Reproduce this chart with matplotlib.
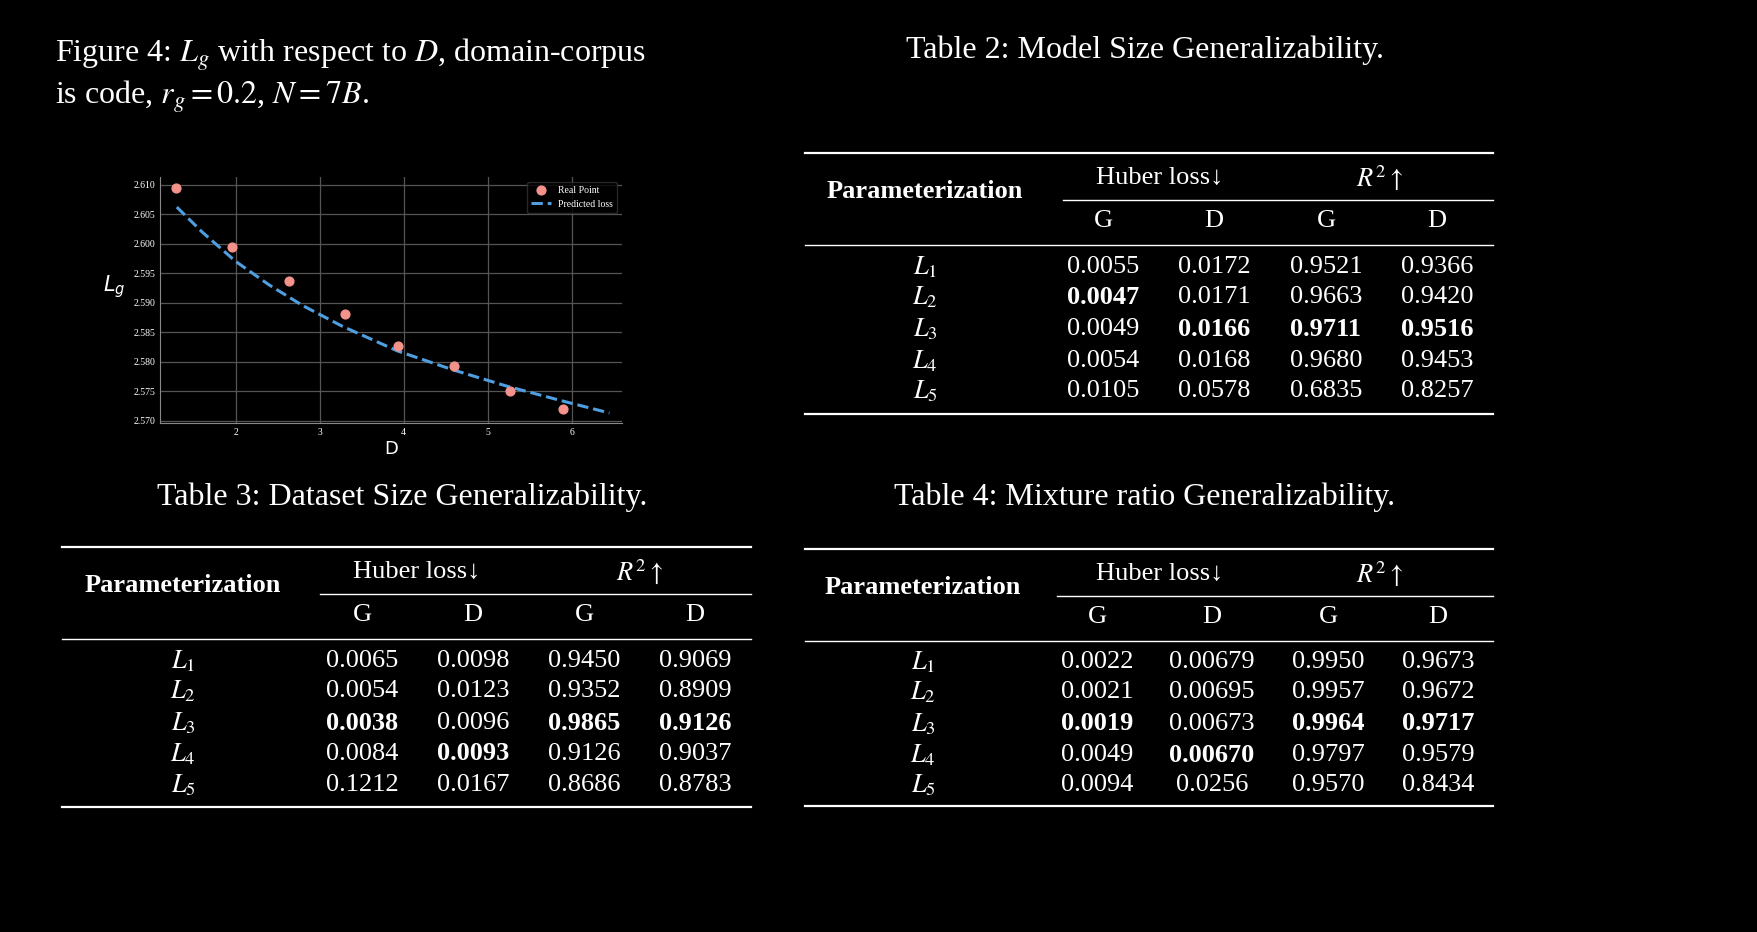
import numpy as np
import matplotlib.pyplot as plt

plt.rcParams["font.family"] = ["Liberation Serif", "DejaVu Serif"]
plt.rcParams["mathtext.fontset"] = "stix"

# chart data
d_real = [1.29, 1.96, 2.63, 3.30, 3.93, 4.60, 5.27, 5.90]
lg_real = [2.6094, 2.5994, 2.5936, 2.5880, 2.5826, 2.5793, 2.5750, 2.5720]
d_pred = [1.30, 1.60, 2.00, 2.40, 2.80, 3.27, 3.93, 4.59, 5.24, 5.90, 6.45]
lg_pred = [2.6062, 2.6020, 2.5970, 2.5930, 2.5895, 2.5860, 2.5818, 2.5786, 2.5758, 2.5733, 2.5713]

# tables
rows = ["$L_1$", "$L_2$", "$L_3$", "$L_4$", "$L_5$"]
t2 = [["0.0055", "0.0172", "0.9521", "0.9366"],
      ["0.0047", "0.0171", "0.9663", "0.9420"],
      ["0.0049", "0.0166", "0.9711", "0.9516"],
      ["0.0054", "0.0168", "0.9680", "0.9453"],
      ["0.0105", "0.0578", "0.6835", "0.8257"]]
t2_bold = [(1, 0), (2, 1), (2, 2), (2, 3)]
t3 = [["0.0065", "0.0098", "0.9450", "0.9069"],
      ["0.0054", "0.0123", "0.9352", "0.8909"],
      ["0.0038", "0.0096", "0.9865", "0.9126"],
      ["0.0084", "0.0093", "0.9126", "0.9037"],
      ["0.1212", "0.0167", "0.8686", "0.8783"]]
t3_bold = [(2, 0), (3, 1), (2, 2), (2, 3)]
t4 = [["0.0022", "0.00679", "0.9950", "0.9673"],
      ["0.0021", "0.00695", "0.9957", "0.9672"],
      ["0.0019", "0.00673", "0.9964", "0.9717"],
      ["0.0049", "0.00670", "0.9797", "0.9579"],
      ["0.0094", "0.0256", "0.9570", "0.8434"]]
t4_bold = [(2, 0), (3, 1), (2, 2), (2, 3)]

W, H = 1758, 932
fig = plt.figure(figsize=(W / 100, H / 100), dpi=100, facecolor="black")


def fx(x):
    return x / W


def fy(y):
    return 1 - y / H


def txt(x, y, s, size=19, ha="center", **kw):
    fig.text(fx(x), fy(y), s, color="white", fontsize=size, ha=ha, va="center", **kw)


def hline(x0, x1, y, lw=1.6):
    fig.add_artist(plt.Line2D([fx(x0), fx(x1)], [fy(y), fy(y)], color="white", lw=lw))


# caption
txt(55, 55, "Figure 4: $L_g$ with respect to $D$, domain-corpus", size=23, ha="left")
txt(55, 97, "is code, $r_g = 0.2$, $N = 7B$.", size=23, ha="left")


def table(title, tx, ty, x0, x1, top, param_x, hub_x, r2_x, sub_x0, cols, rowy, bottom, data, bold):
    txt(tx, ty, title, size=23)
    hline(x0, x1, top)
    txt(param_x, top + 39, "Parameterization", weight="bold")
    txt(hub_x, top + 25, "Huber loss↓", family=["Liberation Serif", "DejaVu Sans"])
    txt(r2_x, top + 25, "$R^2\\uparrow$")
    hline(sub_x0, x1, top + 47, lw=1.0)
    for c, lab in zip(cols, ["G", "D", "G", "D"]):
        txt(c, top + 68, lab)
    hline(x0, x1, top + 92, lw=1.0)
    for i, (r, y) in enumerate(zip(rows, rowy)):
        txt(param_x, y, r)
        for j, c in enumerate(cols):
            txt(c, y, data[i][j], weight="bold" if (i, j) in bold else "normal")
    hline(x0, x1, bottom)


table("Table 2: Model Size Generalizability.", 1145, 50, 805, 1493, 153, 925, 1160, 1380, 1063,
      [1103, 1214, 1326, 1437], [267, 297, 329, 361, 391], 414, t2, t2_bold)
table("Table 3: Dataset Size Generalizability.", 402, 497, 62, 751, 547, 183, 417, 640, 320,
      [362, 473, 584, 695], [661, 691, 723, 754, 785], 807, t3, t3_bold)
table("Table 4: Mixture ratio Generalizability.", 1145, 497, 805, 1493, 549, 923, 1160, 1380, 1057,
      [1097, 1212, 1328, 1438], [662, 692, 724, 755, 785], 806, t4, t4_bold)

# small chart
ax = fig.add_axes([fx(160), fy(423), fx(622 - 160), (423 - 177) / H], facecolor="black")
ax.plot(d_pred, lg_pred, ls="--", color="#4f9ee0", lw=2.2, label="Predicted loss", zorder=2)
ax.scatter(d_real, lg_real, color="#f4928c", s=40, label="Real Point", zorder=3)
ax.set_xlim(1.1, 6.6)
ax.set_ylim(2.5696, 2.6113)
ax.set_xticks([2, 3, 4, 5, 6])
ax.set_yticks(np.arange(2.570, 2.6101, 0.005))
ax.set_yticklabels(["%.3f" % v for v in np.arange(2.570, 2.6101, 0.005)])
ax.grid(color="#555555", lw=0.9)
ax.tick_params(colors="white", labelsize=7, length=0)
for s in ["top", "right"]:
    ax.spines[s].set_visible(False)
for s in ["left", "bottom"]:
    ax.spines[s].set_color("#888888")
ax.set_xlabel("D", color="white", fontsize=13, family="DejaVu Sans", labelpad=2)
ax.set_ylabel("$L_g$", color="white", fontsize=15, rotation=0, labelpad=14,
              math_fontfamily="dejavusans")
h, l = ax.get_legend_handles_labels()
leg = ax.legend(h[::-1], l[::-1], loc="upper right", fontsize=7, facecolor="black",
                edgecolor="#333333", labelcolor="white")

fig.savefig("out.png", dpi=100, facecolor="black")
